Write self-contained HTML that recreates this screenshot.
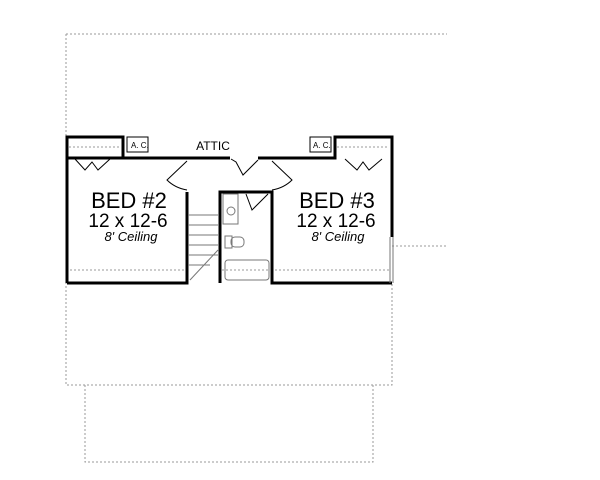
<!DOCTYPE html>
<html><head><style>html,body{margin:0;padding:0;background:#fff}svg{display:block}</style></head>
<body>
<svg width="600" height="480" viewBox="0 0 600 480" xmlns="http://www.w3.org/2000/svg" font-family="Liberation Sans, sans-serif">
<g fill="none" stroke="#999" stroke-width="1" stroke-dasharray="2,2">
<path d="M66 34 H447"/>
<path d="M66 34 V385 H392 V283"/>
<path d="M85 385 V462 H373 V385"/>
<path d="M392 246 H447"/>
<path d="M69 147 H121 M337 147 H389"/>
<path d="M70 270 H185 M275 270 H389 M222 270 H270"/>
</g>
<g fill="none" stroke="#000" stroke-width="3">
<path d="M67 283 V137 H123 V158"/>
<path d="M67 158 H230"/>
<path d="M258 158 H335 V137 H392 V237"/>
<path d="M67 283 H187 V192"/>
<path d="M220 283 V192 H272 V283 H392"/>
</g>
<g fill="none" stroke="#777" stroke-width="1">
<path d="M390 237 V283 M393 237 V283"/>
<path d="M188 215 H218 M188 225 H218 M188 235 H218 M188 245 H218 M188 255 H218 M188 265 H210"/>
<path d="M218 250 L190 280"/>
<rect x="225" y="260" width="44" height="20" rx="3"/>
<rect x="223" y="194" width="15" height="30"/>
<circle cx="231" cy="211" r="4"/>
<rect x="225" y="236" width="7" height="12"/>
<rect x="231" y="237" width="13" height="10" rx="4"/>
</g>
<g fill="none" stroke="#000" stroke-width="1">
<rect x="127" y="137" width="21" height="15"/>
<rect x="310" y="137" width="21" height="15"/>
<path d="M75 159 L85 170 L92 162 L98 170 L110 159"/>
<path d="M345 159 L357 170 L363 162 L369 170 L382 159"/>
<path d="M231 159 L236 162 L243 175 L258 160"/>
<path d="M187 161 L167 180 Q175 188 187 190"/>
<path d="M272 161 L292 180 Q284 188 272 190"/>
<path d="M246 194 L252 210 L268 194"/>
</g>
<g font-size="8" fill="#000">
<text x="131" y="148">A. C.</text>
<text x="313" y="148">A. C.</text>
</g>
<text x="213" y="150" font-size="12" text-anchor="middle">ATTIC</text>
<g text-anchor="middle" fill="#000">
<text x="129" y="208" font-size="22">BED #2</text>
<text x="128" y="227" font-size="19">12 x 12-6</text>
<text x="131" y="241" font-size="13" font-style="italic">8' Ceiling</text>
<text x="337" y="208" font-size="22">BED #3</text>
<text x="336" y="227" font-size="19">12 x 12-6</text>
<text x="338" y="241" font-size="13" font-style="italic">8' Ceiling</text>
</g>
</svg>
</body></html>
